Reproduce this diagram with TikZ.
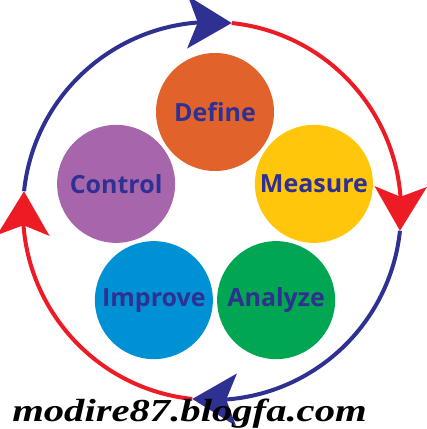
\documentclass[tikz,border=0pt]{standalone}
\usepackage{fontspec}
\newfontfamily\phasefont{Open Sans}
\newfontfamily\sitefont{Liberation Serif}
\usetikzlibrary{arrows.meta,bending}

\definecolor{ringblue}{HTML}{2E3192}
\definecolor{ringred}{HTML}{ED1C24}
\definecolor{defineorange}{HTML}{E2622C}
\definecolor{measureyellow}{HTML}{FFC60B}
\definecolor{analyzegreen}{HTML}{00A651}
\definecolor{improveblue}{HTML}{0091D5}
\definecolor{controlpurple}{HTML}{A766AC}

\begin{document}
\begin{tikzpicture}[x=1pt, y=1pt,
  phase/.style={circle, minimum size=118pt, inner sep=0pt, text=ringblue,
    font=\phasefont\bfseries\fontsize{25}{25}\selectfont},
  ring/.style={line width=4pt, -{Stealth[length=44pt, width=52pt, inset=10pt]}}]

\useasboundingbox (0,0) rectangle (427,429);

\coordinate (hub) at (212,218);
\coordinate (mid) at (215,213);

\foreach \name/\ang/\col in {Define/90/defineorange, Measure/18/measureyellow,
    Analyze/-54/analyzegreen, Improve/-126/improveblue, Control/162/controlpurple}
  \node[phase, fill=\col] (\name) at ([shift={(\ang:104)}]mid) {\name};

\draw[ring, ringred] ([shift={(84:189)}]hub) arc[start angle=84, end angle=-6, radius=189];
\draw[ring, ringblue] ([shift={(-6:189)}]hub) arc[start angle=-6, end angle=-96, radius=189];
\draw[ring, ringred] ([shift={(-96:189)}]hub) arc[start angle=-96, end angle=-186, radius=189];
\draw[ring, ringblue] ([shift={(174:189)}]hub) arc[start angle=174, end angle=84, radius=189];

\node[anchor=base west, inner sep=0pt, xscale=1.27,
  font=\sitefont\bfseries\itshape\fontsize{32}{32}\selectfont]
  (site) at (12,8) {modire87.blogfa.com};

\end{tikzpicture}
\end{document}
